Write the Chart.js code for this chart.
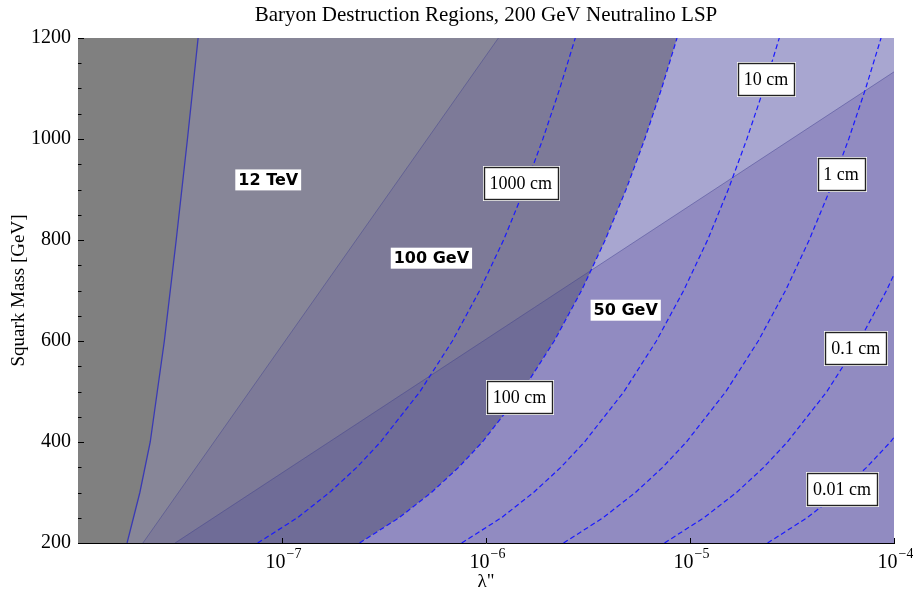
<!DOCTYPE html>
<html><head><meta charset="utf-8">
<script src="https://cdn.jsdelivr.net/npm/chart.js@4.4.1/dist/chart.umd.min.js"></script>
<style>html,body{margin:0;padding:0;background:#fff}#wrap{width:913px;height:595px}</style>
</head><body><div id="wrap"><canvas id="c" width="913" height="595"></canvas></div>
<script>
// ---- axis ranges & ticks ----
const xRange = [1e-8, 1e-4];
const yRange = [200, 1200];
const xTickValues = [1e-7, 1e-6, 1e-5, 1e-4];
const xTickBase = ['10', '10', '10', '10'];
const xTickExponents = ['\u22127', '\u22126', '\u22125', '\u22124'];
const yTickValues = [200, 400, 600, 800, 1000, 1200];

// ---- region boundaries (lambda'', squark mass) ----
// 12 TeV boundary
const massA = [200, 300, 400, 600, 800, 1000, 1200];
const lambdaA = [1.74e-8, 2.01e-8, 2.26e-8, 2.65e-8, 3.03e-8, 3.44e-8, 3.88e-8];
// 100 GeV boundary
const massB = [200, 1200];
const lambdaB = [2.08e-8, 1.15e-6];
// 50 GeV boundary
const massC = [200, 1133];
const lambdaC = [2.99e-8, 1e-4];
// crossing of 50 GeV boundary with the 100 cm contour
const crossCD = [3.28e-6, 740];

// ---- decay-length contours ----
const contourMass = [200, 250, 300, 350, 400, 500, 600, 700, 800, 900, 1000, 1100, 1200];
const contourNames = ['1000 cm', '100 cm', '10 cm', '1 cm', '0.1 cm', '0.01 cm'];
const lambda1000cm = [7.60e-8, 1.19e-7, 1.71e-7, 2.33e-7, 3.04e-7, 4.75e-7, 6.84e-7, 9.31e-7, 1.22e-6, 1.54e-6, 1.90e-6, 2.30e-6, 2.74e-6];
const lambda100cm  = [2.40e-7, 3.75e-7, 5.40e-7, 7.35e-7, 9.60e-7, 1.50e-6, 2.16e-6, 2.94e-6, 3.84e-6, 4.86e-6, 6.00e-6, 7.26e-6, 8.64e-6];
const lambda10cm   = [7.60e-7, 1.19e-6, 1.71e-6, 2.33e-6, 3.04e-6, 4.75e-6, 6.84e-6, 9.31e-6, 1.22e-5, 1.54e-5, 1.90e-5, 2.30e-5, 2.74e-5];
const lambda1cm    = [2.40e-6, 3.75e-6, 5.40e-6, 7.35e-6, 9.60e-6, 1.50e-5, 2.16e-5, 2.94e-5, 3.84e-5, 4.86e-5, 6.00e-5, 7.26e-5, 8.64e-5];
const lambda01cm   = [7.50e-6, 1.17e-5, 1.69e-5, 2.30e-5, 3.00e-5, 4.69e-5, 6.75e-5, 9.19e-5, 1.20e-4];
const lambda001cm  = [2.40e-5, 3.75e-5, 5.40e-5, 7.35e-5, 9.60e-5, 1.50e-4];

// ---- annotations (data coordinates) ----
const contourLabelAt = [[1.48e-6, 913], [1.46e-6, 489], [2.36e-5, 1119], [5.50e-5, 931], [6.50e-5, 586], [5.56e-5, 307]];
const regionNames = ['12 TeV', '100 GeV', '50 GeV'];
const regionLabelAt = [[8.56e-8, 919], [5.40e-7, 764], [4.84e-6, 661]];

// ---- build point lists ----
const pts = (lams, masses) => lams.map((l, i) => ({x: l, y: masses[i]}));
const ptsA = pts(lambdaA, massA);
const ptsB = pts(lambdaB, massB);
const ptsC = pts(lambdaC, massC);
const contourLambdas = [lambda1000cm, lambda100cm, lambda10cm, lambda1cm, lambda01cm, lambda001cm];
const contourPts = contourLambdas.map(l => pts(l, contourMass));
const ptsD = contourPts[1];
const cross = {x: crossCD[0], y: crossCD[1]};
const dBelow = ptsD.filter(p => p.y < cross.y);

const X0 = xRange[0], X1 = xRange[1], Y0 = yRange[0], Y1 = yRange[1];
const polyGray = [{x: X0, y: Y0}, {x: X1, y: Y0}, {x: X1, y: Y1}, {x: X0, y: Y1}];
const poly12 = [...ptsA, {x: X1, y: Y1}, {x: X1, y: Y0}];
const poly100 = [...ptsB, ...ptsD.slice().reverse()];
const polyLight = [...ptsD, {x: X1, y: Y1}, {x: X1, y: Y0}];
const polyLowLeft = [ptsC[0], cross, ...dBelow.slice().reverse()];
const polyLowRight = [cross, ptsC[1], {x: X1, y: Y0}, ...dBelow];

const poly = (data, color, order) => ({data, backgroundColor: color, borderWidth: 0, fill: 'shape', pointRadius: 0, order, tension: 0});
const line = (data, color, width, order, dash) => ({data, borderColor: color, borderWidth: width, fill: false, pointRadius: 0, order, tension: 0, borderDash: dash || []});

const datasets = [
  poly(polyGray, '#808080', 20),
  poly(poly12, '#878698', 19),
  poly(poly100, '#7d7a98', 18),
  poly(polyLight, '#a8a6d0', 17),
  poly(polyLowLeft, '#6f6c97', 16),
  poly(polyLowRight, '#918bc1', 15),
  line(ptsA, '#3a3ab4', 1.3, 6),
  line(ptsB, 'rgba(60,60,140,0.55)', 0.8, 6),
  line(ptsC, 'rgba(60,60,140,0.55)', 0.8, 6),
  ...contourPts.map((p, i) => Object.assign(line(p, '#1a1aff', 1.2, 5, [5, 3]), {label: contourNames[i]}))
];

const serif = 'Liberation Serif';

const overlay = {
  id: 'overlay',
  afterDatasetsDraw(chart) {
    const {ctx, chartArea: a, scales: {x, y}} = chart;
    ctx.save();
    ctx.strokeStyle = '#000'; ctx.lineWidth = 1;
    for (let v = Y0; v <= Y1; v += 50) {
      const py = Math.round(y.getPixelForValue(v)) + 0.5;
      const len = v % 200 === 0 ? 6 : 3.5;
      ctx.beginPath(); ctx.moveTo(a.left, py); ctx.lineTo(a.left + len, py); ctx.stroke();
    }
    xTickValues.forEach(v => {
      const px = Math.round(x.getPixelForValue(v)) + 0.5;
      ctx.beginPath(); ctx.moveTo(px, a.bottom); ctx.lineTo(px, a.bottom - 5); ctx.stroke();
    });
    // x tick labels: 10 with superscript exponent
    ctx.fillStyle = '#000'; ctx.textBaseline = 'alphabetic'; ctx.textAlign = 'left';
    xTickValues.forEach((v, i) => {
      const px = x.getPixelForValue(v);
      ctx.font = '20px "' + serif + '"';
      const wb = ctx.measureText(xTickBase[i]).width;
      ctx.font = '14px "' + serif + '"';
      const we = ctx.measureText(xTickExponents[i]).width;
      const left = px - (wb + we) / 2 + 1;
      ctx.font = '20px "' + serif + '"';
      ctx.fillText(xTickBase[i], left, a.bottom + 25);
      ctx.font = '14px "' + serif + '"';
      ctx.fillText(xTickExponents[i], left + wb + 1, a.bottom + 15);
    });
    // region labels
    ctx.font = 'bold 16px "DejaVu Sans"';
    ctx.textAlign = 'center'; ctx.textBaseline = 'middle';
    regionNames.forEach((t, i) => {
      const px = x.getPixelForValue(regionLabelAt[i][0]), py = y.getPixelForValue(regionLabelAt[i][1]);
      const w = ctx.measureText(t).width + 6;
      ctx.fillStyle = '#fff'; ctx.fillRect(px - w / 2, py - 10.5, w, 21);
      ctx.fillStyle = '#000'; ctx.fillText(t, px, py + 1);
    });
    // contour labels
    ctx.font = '18px "' + serif + '"';
    contourNames.forEach((t, i) => {
      const px = x.getPixelForValue(contourLabelAt[i][0]), py = y.getPixelForValue(contourLabelAt[i][1]);
      const w = Math.round(ctx.measureText(t).width + 12), h = 32;
      const L = Math.round(px - w / 2) + 0.5, T = Math.round(py - h / 2) + 0.5;
      ctx.fillStyle = '#fff'; ctx.fillRect(L - 1.5, T - 1.5, w + 3, h + 3);
      ctx.strokeStyle = '#222'; ctx.lineWidth = 1.4; ctx.strokeRect(L, T, w, h);
      ctx.fillStyle = '#000'; ctx.fillText(t, px, py + 1);
    });
    ctx.restore();
  }
};

new Chart(document.getElementById('c'), {
  type: 'line',
  data: {datasets},
  plugins: [overlay],
  options: {
    responsive: false, animation: false, devicePixelRatio: 1,
    layout: {padding: {left: 0, right: 19, top: 0, bottom: 0}},
    plugins: {
      legend: {display: false}, tooltip: {enabled: false},
      title: {display: true, text: 'Baryon Destruction Regions, 200 GeV Neutralino LSP', fullSize: false,
        color: '#000', font: {family: serif, size: 21, weight: 'normal'}, padding: {top: 3, bottom: 9.8}}
    },
    scales: {
      x: {
        type: 'logarithmic', min: X0, max: X1,
        afterBuildTicks: s => { s.ticks = xTickValues.map(v => ({value: v})); },
        afterFit: s => { s.height = 52; s.paddingLeft = 0; s.paddingRight = 0; },
        ticks: {display: false},
        grid: {display: true, drawOnChartArea: false, drawTicks: false},
        border: {display: true, color: '#000', width: 1},
        title: {display: true, text: 'λ"', color: '#000', font: {family: serif, size: 19}, padding: {top: 0, bottom: 2}}
      },
      y: {
        type: 'linear', min: Y0, max: Y1,
        afterBuildTicks: s => { s.ticks = yTickValues.map(v => ({value: v})); },
        afterFit: s => { s.width = 78; s.paddingTop = 0; s.paddingBottom = 0; },
        ticks: {autoSkip: false, padding: 7, color: '#000', font: {family: serif, size: 20}, callback: v => String(v)},
        grid: {display: true, drawOnChartArea: false, drawTicks: false},
        border: {display: true, color: '#000', width: 1},
        title: {display: true, text: 'Squark Mass [GeV]', color: '#000', font: {family: serif, size: 19}, padding: {top: 8, bottom: 0}}
      }
    }
  }
});
</script></body></html>
